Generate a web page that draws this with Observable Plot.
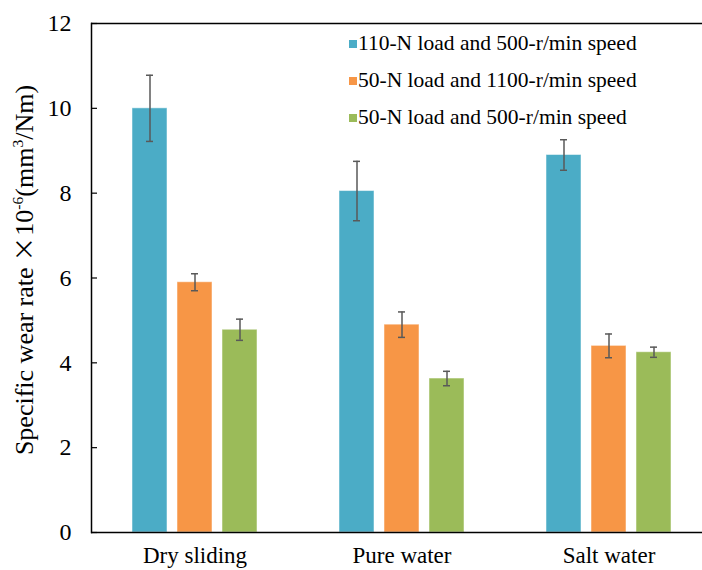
<!DOCTYPE html>
<html><head><meta charset="utf-8">
<script src="https://cdn.jsdelivr.net/npm/d3@7"></script>
<script src="https://cdn.jsdelivr.net/npm/@observablehq/plot@0.6"></script>
<style>
html,body{margin:0;padding:0;background:#fff;}
#wrap{position:relative;width:702px;height:570px;overflow:hidden;font-family:"Liberation Serif","Times New Roman",serif;color:#000;}
#ytitle{position:absolute;left:24px;top:270px;transform:translate(-50%,-50%) rotate(-90deg);white-space:nowrap;font-size:26px;line-height:1;}
#ytitle sup{font-size:0.6em;vertical-align:0.65em;line-height:0;}
#ytitle .x{font-family:"Noto Sans CJK SC",sans-serif;font-size:0.95em;margin:0 1px 0 6px;}
.lrow{position:absolute;left:349px;height:37px;line-height:37px;font-size:21.5px;white-space:nowrap;}
.lrow .sw{position:absolute;left:0;top:15px;width:8px;height:8px;}
.lrow .tx{position:absolute;left:9px;top:0;}
#chart svg{display:block;}
#chart svg text{font-family:"Liberation Serif","Times New Roman",serif !important;}
</style>
</head><body>
<div id="wrap"><div id="chart"></div><div id="ytitle">Specific wear rate<span class="x">×</span>10<sup>-6</sup>(mm<sup>3</sup>/Nm)</div><div id="legend"></div></div>
<script>
const groups = ["Dry sliding", "Pure water", "Salt water"];
const series = ["110-N load and 500-r/min speed", "50-N load and 1100-r/min speed", "50-N load and 500-r/min speed"];
const colors = ["#4BACC6", "#F79646", "#9BBB59"];
const mean110N500 = [10.0, 8.05, 8.9];
const err110N500 = [0.78, 0.70, 0.36];
const mean50N1100 = [5.9, 4.9, 4.4];
const err50N1100 = [0.20, 0.30, 0.28];
const mean50N500 = [4.78, 3.63, 4.25];
const err50N500 = [0.25, 0.17, 0.12];
const yTicks = [0, 2, 4, 6, 8, 10, 12];

const means = [mean110N500, mean50N1100, mean50N500];
const errs = [err110N500, err50N1100, err50N500];
const data = [];
groups.forEach((g, gi) => series.forEach((s, si) => data.push({group: g, series: s, value: means[si][gi], err: errs[si][gi]})));

const serif = "'Liberation Serif', 'Times New Roman', serif";
const chart = Plot.plot({
  width: 702, height: 570,
  marginLeft: 90, marginRight: 0, marginTop: 23, marginBottom: 38,
  fx: {domain: groups, range: [91, 712], paddingInner: 0, paddingOuter: 0, label: null},
  x: {domain: series, paddingInner: 0.217, paddingOuter: 0.859, axis: null},
  y: {domain: [0, 12], label: null},
  color: {domain: series, range: colors},
  style: {fontFamily: serif, fontSize: "20px", color: "#000", background: "#fff"},
  marks: [
    Plot.barY(data, {fx: "group", x: "series", y: "value", fill: "series", stroke: "#fff", strokeOpacity: 0.5, strokeWidth: 1}),
    Plot.ruleX(data, {fx: "group", x: "series", y1: d => d.value - d.err, y2: d => d.value + d.err, stroke: "#595959", strokeWidth: 1.5}),
    Plot.tickY(data, {fx: "group", x: "series", y: d => d.value - d.err, insetLeft: 14, insetRight: 14, stroke: "#595959", strokeWidth: 1.5}),
    Plot.tickY(data, {fx: "group", x: "series", y: d => d.value + d.err, insetLeft: 14, insetRight: 14, stroke: "#595959", strokeWidth: 1.5}),
    Plot.ruleY([0], {stroke: "#000", strokeWidth: 1.5}),
    Plot.ruleY([12], {stroke: "#000", strokeWidth: 1.5}),
    Plot.frame({anchor: "left", facetAnchor: "left", stroke: "#000", strokeWidth: 1.5}),
    Plot.axisY({ticks: yTicks, tickSize: -6, tickPadding: 26, fontSize: 24, fontFamily: serif, tickFormat: d => String(d), stroke: "#000", strokeWidth: 1.2}),
    Plot.axisFx({anchor: "bottom", tickSize: 0, tickPadding: 14, fontSize: 23, fontFamily: serif, label: null})
  ]
});
document.getElementById("chart").appendChild(chart);

const leg = document.getElementById("legend");
series.forEach((s, i) => {
  const row = document.createElement("div");
  row.className = "lrow";
  row.style.top = (25 + i * 37) + "px";
  row.innerHTML = `<span class="sw" style="background:${colors[i]}"></span><span class="tx">${s}</span>`;
  leg.appendChild(row);
});
</script>
</body></html>
